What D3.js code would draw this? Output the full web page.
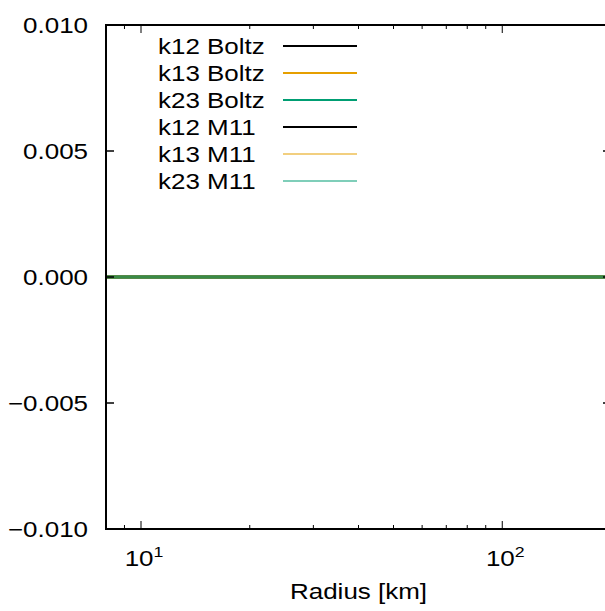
<!DOCTYPE html>
<html>
<head>
<meta charset="utf-8">
<script src="https://cdn.jsdelivr.net/npm/d3@7"></script>
<style>
  body { margin: 0; background: #fff; }
  text { font-family: "Liberation Sans", Arial, Helvetica, sans-serif; fill: #000; }
</style>
</head>
<body>
<svg id="chart" width="605" height="611"></svg>
<script>
// data: every curve sits flat on zero
var radius = [8, 10, 20, 50, 100, 200]
var k12Boltz = [0, 0, 0, 0, 0, 0]
var k13Boltz = [0, 0, 0, 0, 0, 0]
var k23Boltz = [0, 0, 0, 0, 0, 0]
var k12M11 = [0, 0, 0, 0, 0, 0]
var k13M11 = [0, 0, 0, 0, 0, 0]
var k23M11 = [0, 0, 0, 0, 0, 0]
var seriesNames = ['k12 Boltz', 'k13 Boltz', 'k23 Boltz', 'k12 M11', 'k13 M11', 'k23 M11']
var seriesValues = [k12Boltz, k13Boltz, k23Boltz, k12M11, k13M11, k23M11]
var yTicks = [-0.01, -0.005, 0, 0.005, 0.01]
var yTickLabels = ['\u22120.010', '\u22120.005', '0.000', '0.005', '0.010']
var xMajor = [10, 100]
var xMajorExp = ['1', '2']
var xMinor = [9, 20, 30, 40, 50, 60, 70, 80, 90]
var xTitle = 'Radius [km]'

var colors = ['#000000', '#e69f00', '#009e73', '#000000', '#e69f00', '#009e73']
var opac = [1, 1, 1, 0.5, 0.5, 0.5]
var legendOpac = [1, 1, 1, 1, 0.5, 0.5]
var widths = [2.2, 2.2, 2.2, 1.8, 1.8, 1.8]

var svg = d3.select('#chart')
var plotLeft = 106
var plotRight = 611
var plotTop = 25
var plotBottom = 529
var stretch = 1.18

var x = d3.scaleLog().domain([8, 200]).range([plotLeft, plotRight])
var y = d3.scaleLinear().domain([-0.01, 0.01]).range([plotBottom, plotTop])

/**
 * Puts a text, widened a bit like the original font.
 */
function label (px, py, str, anchor, size) {
  return svg.append('text')
    .attr('transform', 'translate(' + px + ',' + py + ') scale(' + stretch + ',1)')
    .attr('text-anchor', anchor)
    .attr('font-size', size)
    .text(str)
}

// curves
var line = d3.line()
  .x(function (d) { return x(d.r) })
  .y(function (d) { return y(d.v) })

seriesValues.forEach(function (vals, i) {
  var pts = radius.map(function (r, j) { return { r: r, v: vals[j] } })
  svg.append('path')
    .datum(pts)
    .attr('d', line)
    .attr('fill', 'none')
    .attr('stroke', colors[i])
    .attr('stroke-opacity', opac[i])
    .attr('stroke-width', i < 3 ? 3.2 : 2.4)
})

// frame
svg.append('rect')
  .attr('x', plotLeft).attr('y', plotTop)
  .attr('width', plotRight - plotLeft).attr('height', plotBottom - plotTop)
  .attr('fill', 'none').attr('stroke', '#000').attr('stroke-width', 2)

// y ticks, both sides
yTicks.forEach(function (t, i) {
  var ty = y(t)
  svg.append('line').attr('x1', plotLeft).attr('x2', plotLeft + 8).attr('y1', ty).attr('y2', ty)
    .attr('stroke', '#000').attr('stroke-width', 1.5)
  svg.append('line').attr('x1', plotRight).attr('x2', plotRight - 8).attr('y1', ty).attr('y2', ty)
    .attr('stroke', '#000').attr('stroke-width', 1.5)
  label(88, ty + 8, yTickLabels[i], 'end', 22)
})

// x ticks, bottom and top
xMinor.forEach(function (t) {
  var tx = x(t)
  svg.append('line').attr('x1', tx).attr('x2', tx).attr('y1', plotBottom).attr('y2', plotBottom - 4)
    .attr('stroke', '#000').attr('stroke-width', 1)
  svg.append('line').attr('x1', tx).attr('x2', tx).attr('y1', plotTop).attr('y2', plotTop + 4)
    .attr('stroke', '#000').attr('stroke-width', 1)
})
xMajor.forEach(function (t, i) {
  var tx = x(t)
  svg.append('line').attr('x1', tx).attr('x2', tx).attr('y1', plotBottom).attr('y2', plotBottom - 8)
    .attr('stroke', '#000').attr('stroke-width', 1)
  svg.append('line').attr('x1', tx).attr('x2', tx).attr('y1', plotTop).attr('y2', plotTop + 8)
    .attr('stroke', '#000').attr('stroke-width', 1)
  var tl = label(tx + 3, 566, '10', 'middle', 22)
  tl.append('tspan').attr('dy', -9).attr('font-size', 15).text(xMajorExp[i])
})

label((plotLeft + plotRight) / 2, 599, xTitle, 'middle', 22)

// legend
seriesNames.forEach(function (name, i) {
  var ly = 46 + i * 27
  label(158, ly + 8, name, 'start', 22)
  svg.append('line')
    .attr('x1', 283).attr('x2', 357).attr('y1', ly).attr('y2', ly)
    .attr('stroke', colors[i])
    .attr('stroke-opacity', legendOpac[i])
    .attr('stroke-width', widths[i])
})
</script>
</body>
</html>
